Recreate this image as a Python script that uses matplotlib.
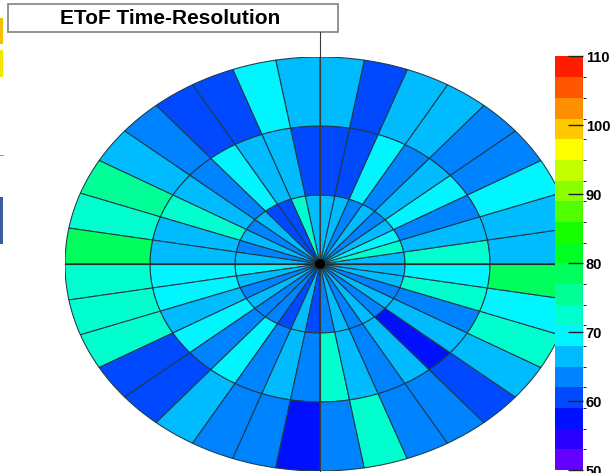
import colorsys
import numpy as np
import matplotlib
matplotlib.use("Agg")
import matplotlib.pyplot as plt
from matplotlib.patches import Wedge, Rectangle, Ellipse
from matplotlib.collections import PatchCollection
from matplotlib.colors import ListedColormap, BoundaryNorm

plt.rcParams['font.family'] = ['Liberation Sans', 'DejaVu Sans']

# time resolution (ps) per cell, 36 sectors of 10 deg, counter-clockwise from +x
inner_ring = [66, 72, 70, 66, 64, 66, 64, 66, 66,
              66, 72, 61, 61, 66, 64, 66, 64, 66,
              69, 66, 64, 66, 64, 64, 61, 66, 61,
              64, 66, 64, 66, 64, 66, 64, 66, 66]
middle_ring = [72, 66, 64, 70, 66, 64, 70, 61, 61,
               61, 66, 67, 70, 64, 66, 73, 66, 67,
               70, 69, 67, 70, 64, 70, 64, 66, 64,
               72, 66, 64, 66, 58, 66, 64, 72, 70]
outer_ring = [67, 66, 70, 64, 63, 66, 67, 61, 66,
              67, 70, 60, 60, 64, 66, 76, 73, 79,
              73, 72, 73, 60, 61, 66, 64, 63, 58,
              64, 72, 64, 63, 60, 67, 73, 70, 78]
rings = [inner_ring, middle_ring, outer_ring]
sector_width = 10
zmin, zmax, nlev = 50, 110, 20
cbar_ticks = [50, 60, 70, 80, 90, 100, 110]
title = "EToF Time-Resolution"

# old ROOT rainbow palette: violet -> blue -> cyan -> green -> yellow -> red
levels = np.linspace(zmin, zmax, nlev + 1)
centers = 0.5 * (levels[:-1] + levels[1:])
cols = [colorsys.hsv_to_rgb(0.75 * (1 - (c - zmin) / (zmax - zmin)), 1, 1) for c in centers]
cmap = ListedColormap(cols)
norm = BoundaryNorm(levels, cmap.N)

W, H = 611, 473
fig = plt.figure(figsize=(W / 100, H / 100), dpi=100)

# decorations in pixel coordinates
deco = fig.add_axes([0, 0, 1, 1])
deco.set_xlim(0, W)
deco.set_ylim(H, 0)
deco.axis('off')
deco.add_patch(Rectangle((8, 4), 330, 28, facecolor='white', edgecolor='#8a8a8a', lw=1.3))
deco.text(170, 18.5, title, ha='center', va='center', fontsize=15, fontweight='bold')
# bits of other windows left at the screenshot edge
deco.add_patch(Rectangle((0, 18), 3, 26, facecolor='#f2c200', lw=0))
deco.add_patch(Rectangle((0, 50), 3, 27, facecolor='#f5e600', lw=0))
deco.add_patch(Rectangle((0, 154.5), 4, 1, facecolor='#9a9a9a', lw=0))
deco.add_patch(Rectangle((0, 197), 3, 47, facecolor='#3d5c9e', lw=0))

# polar cells
ax = fig.add_axes([65 / W, 2 / H, 510 / W, 414 / H])
ax.set_xlim(-1, 1)
ax.set_ylim(-1, 1)
ax.axis('off')

patches, vals = [], []
for i, ring in enumerate(rings):
    for k, v in enumerate(ring):
        patches.append(Wedge((0, 0), (i + 1) / 3, k * sector_width, (k + 1) * sector_width, width=1 / 3))
        vals.append(v)
pc = PatchCollection(patches, cmap=cmap, norm=norm, edgecolor='#1d3a44', linewidth=0.75)
pc.set_array(np.array(vals))
ax.add_collection(pc)

ax.plot([0, 0], [-1, 1.12], color='#3a3a3a', lw=0.8, clip_on=False)
ax.plot([-1, 1], [0, 0], color='#2a2a2a', lw=0.8, clip_on=False)
ax.add_patch(Ellipse((0, 0), 0.035, 0.04, color='black', zorder=5))

# palette
cax = fig.add_axes([555 / W, 3 / H, 28 / W, 413.5 / H])
cb = fig.colorbar(plt.cm.ScalarMappable(norm=norm, cmap=cmap), cax=cax, ticks=cbar_ticks)
cb.outline.set_visible(False)
cax.axvline(1, color='#333333', lw=0.8)
cax.tick_params(direction='in', length=11, width=1, color='#222222', pad=2, labelsize=10.5)
for t in cax.get_yticklabels():
    t.set_fontweight('bold')

fig.savefig('out.png', dpi=100)
